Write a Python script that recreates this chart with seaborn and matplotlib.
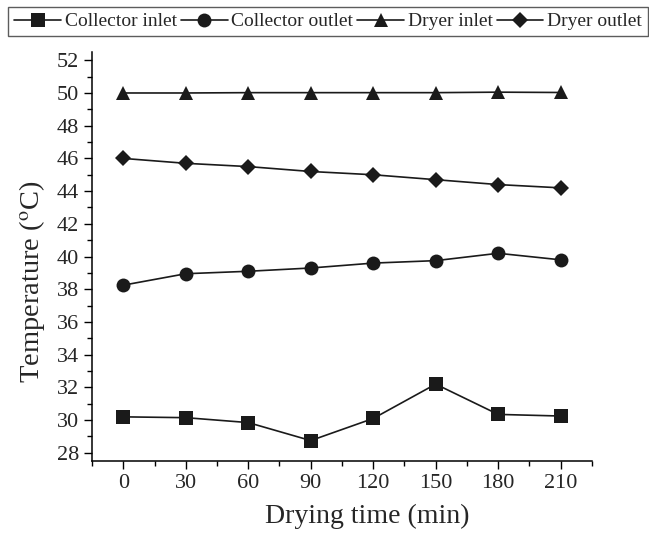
import matplotlib.pyplot as plt
import pandas as pd
import seaborn as sns

time_min = [0, 30, 60, 90, 120, 150, 180, 210]
collector_inlet = [30.2, 30.15, 29.85, 28.75, 30.1, 32.2, 30.35, 30.25]
collector_outlet = [38.25, 38.95, 39.1, 39.3, 39.6, 39.75, 40.2, 39.8]
dryer_inlet = [50.0, 50.0, 50.02, 50.02, 50.02, 50.02, 50.05, 50.03]
dryer_outlet = [46.0, 45.7, 45.5, 45.2, 45.0, 44.7, 44.4, 44.2]
series_names = ["Collector inlet", "Collector outlet", "Dryer inlet", "Dryer outlet"]

df = pd.DataFrame(
    {
        "Drying time (min)": time_min * 4,
        "Temperature": collector_inlet + collector_outlet + dryer_inlet + dryer_outlet,
        "Series": sum([[n] * len(time_min) for n in series_names], []),
    }
)

sns.set_style("ticks")
plt.rcParams["font.family"] = ["Liberation Serif", "DejaVu Serif"]
plt.rcParams["mathtext.fontset"] = "stix"

fig = plt.figure(figsize=(6.49, 5.37), dpi=100)
ax = fig.add_axes([0.1418, 0.1415, 0.912 - 0.1418, 0.903 - 0.1415])

sns.lineplot(
    data=df,
    x="Drying time (min)",
    y="Temperature",
    hue="Series",
    style="Series",
    markers=["s", "o", "^", "D"],
    dashes=False,
    palette=["#1a1a1a"] * 4,
    markersize=10,
    markeredgewidth=0,
    linewidth=1.2,
    ax=ax,
    legend=True,
)

# diamond slightly smaller than the others
for line in ax.lines:
    if line.get_marker() == "D":
        line.set_markersize(8)

ax.set_xlim(-15, 225)
ax.set_ylim(27.5, 52.5)
ax.set_xticks(time_min)
ax.set_xticks(range(-15, 226, 30), minor=True)
ax.set_yticks(range(28, 53, 2))
ax.set_yticks(range(28, 53, 1), minor=True)
ax.tick_params(axis="both", which="major", labelsize=16, length=6, width=1, color="black", direction="out")
ax.tick_params(axis="both", which="minor", length=3.5, width=1, color="black", direction="out")
for s in ["left", "bottom"]:
    ax.spines[s].set_linewidth(1.1)
    ax.spines[s].set_color("black")
sns.despine(ax=ax)

ax.set_xlabel("Drying time (min)", fontsize=20)
ax.set_ylabel("Temperature ($^{\\rm o}$C)", fontsize=20.5)
ax.xaxis.set_label_coords(0.55, -0.105)
ax.yaxis.set_label_coords(-0.09, 0.44)

handles, labels = ax.get_legend_handles_labels()
ax.get_legend().remove()
for h in handles:
    if h.get_marker() == "D":
        h.set_markersize(8)
leg = fig.legend(
    handles,
    labels,
    loc="upper left",
    bbox_to_anchor=(0.013, 0.987),
    ncol=4,
    fontsize=14,
    frameon=True,
    fancybox=False,
    edgecolor="#333333",
    handlelength=2.4,
    handletextpad=0.2,
    columnspacing=0.2,
    borderpad=0.3,
    borderaxespad=0,
)
leg.get_frame().set_linewidth(1.0)

fig.savefig("out.png", dpi=100)
